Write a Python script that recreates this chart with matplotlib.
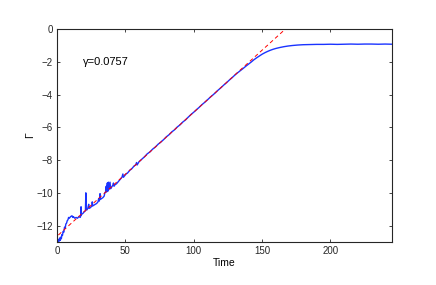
import numpy as np
import matplotlib
matplotlib.use("Agg")
import matplotlib.pyplot as plt

plt.rcParams['font.family'] = ['Liberation Sans', 'DejaVu Sans']

# growth rate and intercept of the linear fit
gamma = 0.0757
intercept = -12.65
fit_t = [1, 168]

time = [0, 0.4, 0.8, 1.2, 1.6, 2.0, 2.4, 2.8, 3.2, 3.6, 4.0, 4.5, 5.0, 5.5, 6.0, 6.5,
        7.0, 7.5, 8.0, 8.5, 9.0, 10, 11, 11.5, 12, 13, 14, 15, 16, 17, 17.4, 17.6,
        17.8, 18.2, 19, 20, 20.8, 21.1, 21.3, 21.8, 22.5, 23.2, 23.5, 24.5, 25.5,
        25.8, 26.1, 27, 28, 29, 30, 30.5, 31, 31.5, 31.8, 32.5, 33.5, 34.5, 35,
        35.5, 36, 36.3, 36.8, 37.2, 37.6, 38, 38.8, 39.2, 40, 41, 41.3, 41.7, 42.5,
        43.5, 44.5, 45.5, 46.5, 47.5, 48.2, 48.6, 49.5, 50.5, 51.5, 52.5, 53.5,
        54.5, 55.5, 56.5, 57.5, 58.2, 58.6, 60, 62, 64, 66, 68, 70, 72, 74, 76,
        78, 80, 82, 84, 86, 88, 90, 92, 94, 96, 98, 100, 102, 104, 106, 108, 110,
        112, 114, 116, 118, 120, 122, 124, 126, 128, 130, 132, 134, 136, 138, 140,
        142, 144, 146, 148, 150, 152, 154, 156, 158, 160, 163, 166, 169, 172, 176,
        180, 185, 190, 195, 200, 205, 210, 215, 220, 225, 230, 235, 240, 245]

gamma_log = [-12.95, -12.8, -12.98, -12.85, -12.95, -12.75, -12.9, -12.7, -12.8,
             -12.55, -12.6, -12.35, -12.4, -12.1, -12.15, -11.9, -11.85, -11.7,
             -11.65, -11.5, -11.55, -11.45, -11.4, -11.5, -11.45, -11.55, -11.5,
             -11.55, -11.45, -11.5, -11.4, -10.85, -11.35, -11.3, -11.25, -11.15,
             -11.1, -10.0, -11.0, -11.05, -10.95, -10.7, -10.95, -10.9, -10.8,
             -10.55, -10.8, -10.75, -10.7, -10.65, -10.55, -10.35, -10.5, -10.05,
             -10.4, -10.35, -10.3, -10.2, -10.0, -9.95, -9.6, -9.95, -9.4, -9.9,
             -9.35, -9.8, -9.35, -9.75, -9.65, -9.5, -9.4, -9.6, -9.5, -9.45,
             -9.35, -9.25, -9.15, -9.05, -8.85, -9.05, -8.95, -8.85, -8.8, -8.7,
             -8.6, -8.55, -8.45, -8.35, -8.3, -8.15, -8.3, -8.1, -7.95, -7.8,
             -7.62, -7.5, -7.33, -7.2, -7.03, -6.9, -6.75, -6.58, -6.45, -6.28,
             -6.15, -5.98, -5.85, -5.68, -5.55, -5.38, -5.22, -5.08, -4.93, -4.78,
             -4.62, -4.48, -4.33, -4.17, -4.03, -3.88, -3.72, -3.58, -3.42, -3.28,
             -3.12, -2.98, -2.82, -2.68, -2.55, -2.42, -2.28, -2.15, -2.02, -1.88,
             -1.76, -1.65, -1.54, -1.45, -1.37, -1.30, -1.24, -1.19, -1.13, -1.08,
             -1.04, -1.01, -0.98, -0.96, -0.95, -0.94, -0.94, -0.93, -0.94, -0.93,
             -0.92, -0.93, -0.92, -0.92, -0.93, -0.92, -0.93]

x_ticks = [0, 50, 100, 150, 200]
y_ticks = [0, -2, -4, -6, -8, -10, -12]

fig = plt.figure(figsize=(4.36, 2.85), dpi=100)
ax = fig.add_axes([0.1307, 0.1509, 0.7683, 0.7474])

ax.plot(time, gamma_log, color=(0.1, 0.2, 1.0), lw=1.0)
ft = np.array(fit_t)
ax.plot(ft, intercept + gamma * ft, color='red', lw=0.7, linestyle=(0, (4, 3)))

ax.text(19, -2, 'γ=%.4f' % gamma, ha='left', va='center', fontsize=8)

ax.set_xlim(0, 245)
ax.set_ylim(-13, 0)
ax.set_xticks(x_ticks)
ax.set_yticks(y_ticks)
ax.tick_params(direction='in', top=True, right=True, length=2.3, width=0.6,
               labelsize=7, pad=3, colors='0.15')
for s in ax.spines.values():
    s.set_linewidth(0.8)
    s.set_color('0.15')

ax.set_xlabel('Time', fontsize=7.5, labelpad=1)
ax.set_ylabel('Γ', fontsize=7.5, labelpad=1)

fig.savefig('out.png', dpi=100)
